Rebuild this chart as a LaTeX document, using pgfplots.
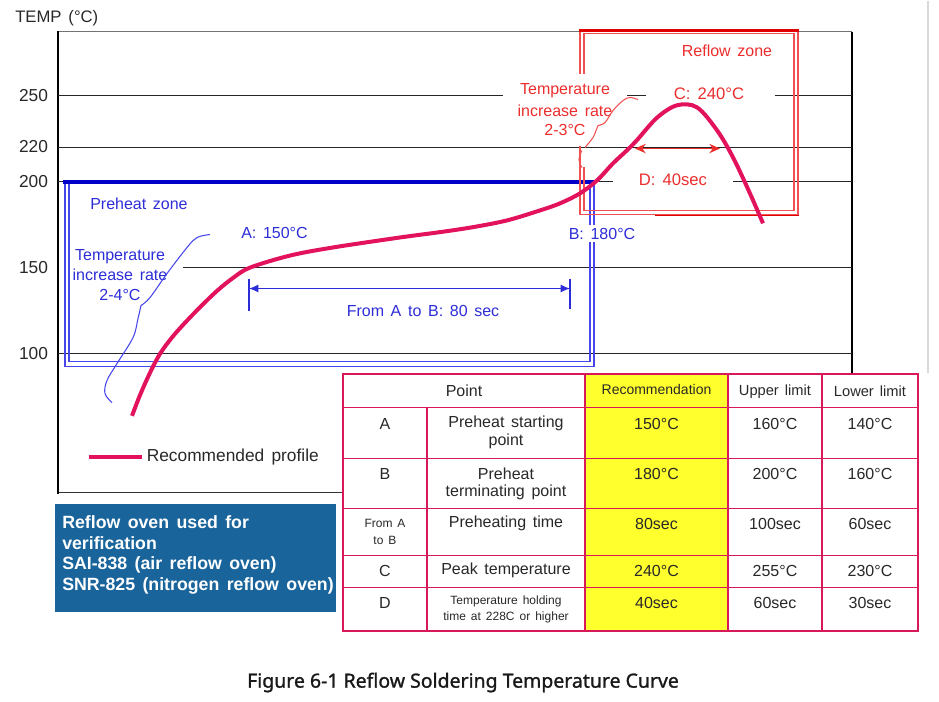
\documentclass[border=0pt]{standalone}
\usepackage{pgfplots}
\pgfplotsset{compat=1.18}
\usepackage{fontspec}
\setmainfont{Liberation Sans}[WordSpace=1.5]
\newfontfamily\capfont{Noto Sans}[FakeBold=1.2]
\usetikzlibrary{arrows.meta}

\definecolor{curve}{RGB}{226,18,92}
\definecolor{btext}{RGB}{45,45,215}
\definecolor{bthin}{RGB}{70,70,235}
\definecolor{bdark}{RGB}{0,0,200}
\definecolor{rtext}{RGB}{235,45,45}
\definecolor{rthin}{RGB}{242,80,80}
\definecolor{rdark}{RGB}{225,0,0}
\definecolor{tabline}{RGB}{215,25,90}
\definecolor{yel}{RGB}{255,255,45}
\definecolor{infob}{RGB}{25,100,155}
\definecolor{txt}{RGB}{40,40,40}

\newcommand{\fs}[1]{\fontsize{#1}{#1}\selectfont}

\begin{document}
\begin{tikzpicture}
% pixel grid: 1px = 0.75pt, y downwards
\begin{scope}[x=0.75pt, y=-0.75pt, every node/.style={inner sep=0pt}]
  \path (0,0) rectangle (939,701);
  \draw[black!15, line width=0.8pt] (928,0) -- (928,372);

  \node[anchor=west, text=txt, font=\fs{12.5}] at (15,18) {TEMP (°C)};

  % frame
  \draw[black!55, line width=0.8pt] (58,31) -- (852,31);
  \draw[black, line width=0.8pt] (852,31) -- (852,374);
  \draw[black!80, line width=0.8pt] (58,492) -- (343,492);
  \draw[black, line width=1.6pt] (58,30.5) -- (58,493);

  % grid lines
  \draw[black!85, line width=0.75pt]
    (58,94.8) -- (503,94.8) (627,94.8) -- (646,94.8) (775,94.8) -- (852,94.8)
    (58,146.5) -- (852,146.5)
    (58,180.9) -- (613,180.9) (733,180.9) -- (852,180.9)
    (183,267) -- (852,267)
    (58,353.3) -- (852,353.3);

  % preheat zone box
  \draw[bthin, line width=0.9pt] (65,181) -- (65,366) -- (594,366) -- (594,181);
  \draw[bthin, line width=0.9pt] (69,183) -- (69,361) -- (590,361) -- (590,183);
  \draw[bdark, line width=3pt] (63,181) -- (595,181);

  % reflow zone box
  \draw[rthin, line width=0.9pt] (580,73) -- (580,30) -- (798,30) -- (798,214) -- (580,214) -- (580,145);
  \draw[rthin, line width=0.9pt] (584,73) -- (584,33) -- (794,33) -- (794,210) -- (584,210) -- (584,166);
  \draw[rdark, line width=2.5pt] (579,30) -- (799,30);
  \draw[rdark, line width=1.2pt] (655,215) -- (799,215);

  % blue annotations
  \node[anchor=west, text=btext, font=\fs{12}] at (90,203) {Preheat zone};
  \node[anchor=west, text=btext, font=\fs{12}] at (241,232) {A: 150°C};
  \node[fill=white, inner xsep=3pt, inner ysep=2pt, text=btext, font=\fs{12}] at (602,233) {B: 180°C};
  \node[text=btext, font=\fs{12}] at (423,310) {From A to B: 80 sec};
  \node[text=btext, font=\fs{12}] at (120,256) {Temperature};
  \node[text=btext, font=\fs{12}] at (120,274) {increase rate};
  \node[text=btext, font=\fs{12}] at (120,294) {2-4°C};
  \draw[btext, line width=0.9pt] (249,278) -- (249,310) (570,278) -- (570,308);
  \draw[btext, line width=0.9pt, {Latex[length=7pt,width=6pt]}-{Latex[length=7pt,width=6pt]}] (249,288) -- (570,288);
  \draw[bthin, line width=0.8pt] plot[smooth, tension=0.6] coordinates
    {(210,234) (197,237) (187,247) (167,273) (150,297) (141,305)};
  \draw[bthin, line width=0.8pt] plot[smooth, tension=0.6] coordinates
    {(141,305) (138,318) (133,337) (117,363) (107,380) (105,393) (112,402)};

  % red annotations
  \node[text=rtext, font=\fs{12}] at (727,50) {Reflow zone};
  \node[text=rtext, font=\fs{12}] at (565,90) {Temperature};
  \node[text=rtext, font=\fs{12}] at (565,110) {increase rate};
  \node[text=rtext, font=\fs{12}] at (565,129) {2-3°C};
  \node[text=rtext, font=\fs{12.5}] at (709,93) {C: 240°C};
  \node[text=rtext, font=\fs{12.5}] at (673,179) {D: 40sec};
  \draw[rtext, line width=1.2pt, {Stealth[length=8pt,width=7pt]}-{Stealth[length=8pt,width=7pt]}] (635,148) -- (720,148);
  \draw[rthin, line width=0.8pt] plot[smooth, tension=0.6] coordinates
    {(638,99) (630,97) (623,100) (613,110) (605,122) (598,125)};
  \draw[rthin, line width=0.8pt] plot[smooth, tension=0.6] coordinates
    {(598,125) (596,130) (593,137) (585,147)};
  \draw[rthin, line width=0.8pt] (582,150) .. controls (578,156) and (578,162) .. (582,167);
\end{scope}

\begin{axis}[
  at={(43.5pt,-369pt)}, anchor=south west,
  scale only axis, width=595.5pt, height=345.75pt,
  xmin=58, xmax=852, ymin=19.5, ymax=287,
  axis line style={draw=none},
  xtick=\empty,
  ytick={100,150,200,220,250},
  yticklabels={100,150,200,220,250},
  major tick length=0pt,
  yticklabel style={font=\fs{13}, text=txt, xshift=-4pt},
  clip=false,
  legend style={draw=none, fill=none, at={(0.036,0.078)}, anchor=west,
    font=\fs{13}, text=txt, inner sep=0pt},
  legend image code/.code={\draw[#1] (0pt,0pt) -- (40pt,0pt);},
]
\addplot[curve, line width=3pt, smooth, tension=0.55] coordinates {
  (132,64) (140,76) (150,89) (160,100) (172,109.5) (185,118) (200,127)
  (217,136.5) (233,144) (250,150)
  (290,157) (333,161.7) (400,167.5) (440,170.6) (473,173.5) (507,177.4)
  (540,183.2) (560,187.3) (580,193.1) (597,200.6) (613,210.5) (627,218.1)
  (637,224) (657,237) (677,244.2) (697,243) (717,229.7) (733,214)
  (750,193) (763,175.7)
};
\addlegendentry{Recommended profile}
\end{axis}

\begin{scope}[x=0.75pt, y=-0.75pt, every node/.style={inner sep=0pt}]
  % table
  \fill[white] (343,373) rectangle (918,630);
  \fill[yel] (585,373) rectangle (728,630);
  \draw[tabline, line width=1.5pt] (343,373) rectangle (918,630);
  \draw[tabline, line width=1.2pt]
    (343,407) -- (918,407) (343,458) -- (918,458) (343,508) -- (918,508)
    (343,555) -- (918,555) (343,587) -- (918,587)
    (427,407) -- (427,630) (585,373) -- (585,630) (728,373) -- (728,630)
    (822,373) -- (822,630);
  \begin{scope}[every node/.append style={text=txt, font=\fs{12}}]
    \node at (464,390) {Point};
    \node[font=\fs{10.5}] at (656.5,389) {Recommendation};
    \node[font=\fs{11}] at (775,391) {Upper limit};
    \node[font=\fs{11}] at (870,391) {Lower limit};
    % A
    \node at (385,423) {A};
    \node at (506,423) {Preheat starting};
    \node at (506,441) {point};
    \node at (656.5,423) {150°C};
    \node at (775,423) {160°C};
    \node at (870,423) {140°C};
    % B
    \node at (385,473) {B};
    \node at (506,473) {Preheat};
    \node at (506,492) {terminating point};
    \node at (656.5,473) {180°C};
    \node at (775,473) {200°C};
    \node at (870,473) {160°C};
    % A to B
    \node[font=\fs{9}] at (385,523) {From A};
    \node[font=\fs{9}] at (385,540) {to B};
    \node at (506,523) {Preheating time};
    \node at (656.5,523) {80sec};
    \node at (775,523) {100sec};
    \node at (870,523) {60sec};
    % C
    \node at (385,570) {C};
    \node at (506,570) {Peak temperature};
    \node at (656.5,570) {240°C};
    \node at (775,570) {255°C};
    \node at (870,570) {230°C};
    % D
    \node at (385,602) {D};
    \node[font=\fs{9}] at (506,601) {Temperature holding};
    \node[font=\fs{9}] at (506,617) {time at 228C or higher};
    \node at (656.5,602) {40sec};
    \node at (775,602) {60sec};
    \node at (870,602) {30sec};
  \end{scope}

  % info box
  \fill[infob] (55,503) rectangle (336,611);
  \begin{scope}
    \clip (55,503) rectangle (336,611);
    \begin{scope}[every node/.append style={anchor=west, text=white, font=\bfseries\fs{13.3}}]
      \node at (62,522) {Reflow oven used for};
      \node at (62,543) {verification};
      \node at (62,564) {SAI-838 (air reflow oven)};
      \node at (62,585) {SNR-825 (nitrogen reflow oven)};
    \end{scope}
  \end{scope}

  % caption
  \node[text=black!90, font=\capfont\fontsize{14.6}{14.6}\selectfont] at (463,682)
    {Figure 6-1 Reflow Soldering Temperature Curve};
\end{scope}
\end{tikzpicture}
\end{document}
